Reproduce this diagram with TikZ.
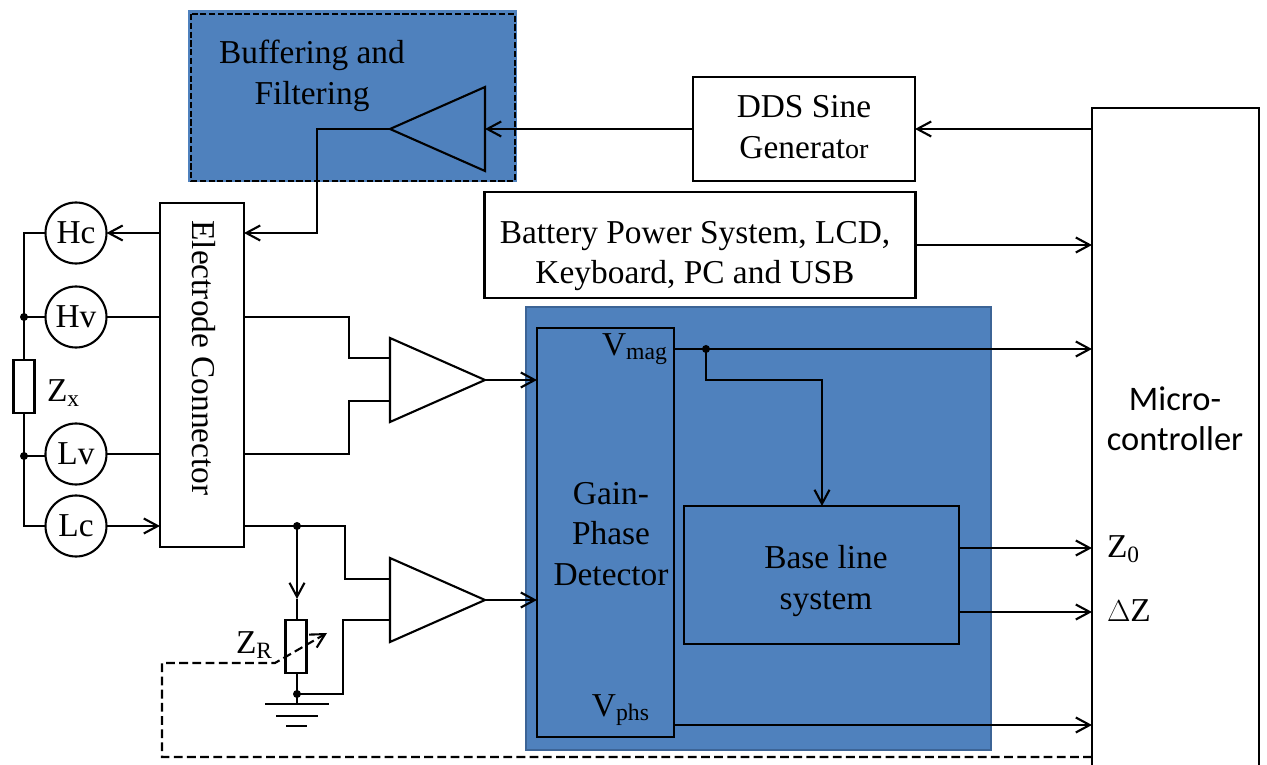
\documentclass[tikz,border=0pt]{standalone}
\usepackage{fontspec}
\setmainfont{Liberation Serif}
\setsansfont{Carlito}
\usepackage{xcolor}
\usetikzlibrary{positioning,arrows.meta,calc,shapes.geometric}
\definecolor{panelbg}{RGB}{79,129,189}
\definecolor{panelline}{RGB}{60,100,150}
\newcommand{\lowsub}[1]{\raisebox{-2.6pt}{\fontsize{13.5}{13.5}\selectfont #1}}
\tikzset{
    wire/.style={line width=1.2pt},
    sig/.style={wire, -{Straight Barb[length=2.8mm,width=3mm,line width=1.2pt]}},
    ctrl/.style={sig, dashed, dash pattern=on 5pt off 2.5pt},
    block/.style={draw, line width=1.2pt, inner sep=0pt, outer sep=0pt},
    panel/.style={fill=panelbg, draw=panelline, line width=1.6pt, inner sep=0pt, outer sep=0pt},
    probe/.style={circle, draw, line width=1.2pt, minimum size=12.2mm, inner sep=0pt, outer sep=0pt, font=\fontsize{19}{21}\selectfont},
    amp/.style={isosceles triangle, isosceles triangle stretches, draw, line width=1.2pt, inner sep=0pt, outer sep=0pt, minimum width=16.8mm, minimum height=19mm},
    res/.style={draw, line width=1.2pt, minimum width=4.2mm, minimum height=10.6mm, inner sep=0pt, outer sep=0pt},
    lbl/.style={inner sep=0pt, outer sep=0pt, align=center, font=\fontsize{19}{23}\selectfont},
    dot/.style={circle, fill, minimum size=1.6mm, inner sep=0pt, outer sep=0pt},
}
\begin{document}
\begin{tikzpicture}[x=0.2mm, y=-0.2mm]
    \path[use as bounding box, clip] (0,0) rectangle (1267,765);

    % Shaded panels
    \node[panel, draw=none, minimum width=65.8mm, minimum height=34.4mm] (bufpanel) at (352.5,96) {};
    \draw[wire, dashed, dash pattern=on 3.5pt off 1.5pt] (191,14) rectangle (515,181);
    \node[panel, minimum width=93mm, minimum height=88.6mm] (detpanel) at (758.5,528.5) {};

    % Blocks
    \node[block, minimum width=44.4mm, minimum height=20.8mm] (dds) at (804,129) {};
    \node[lbl] (ddstxt) at (804,127) {DDS Sine\\[0pt]Generat{\fontsize{16}{23}\selectfont or}};
    \node[block, minimum width=86.2mm, minimum height=21.2mm] (batt) at (700,245) {};
    \node[lbl] (batttxt) at (695,256) {Battery Power System, LCD,\\[0pt]Keyboard, PC and USB};
    \node[block, minimum width=33.4mm, minimum height=140mm] (micro) at (1175.5,458) {};
    \node[lbl, font=\sffamily\fontsize{19.6}{23}\selectfont] (microtxt) at (1175,419) {Micro-\\[0pt]controller};
    \node[block, minimum width=16.8mm, minimum height=68.8mm] (conn) at (202,375) {};
    \node[lbl, rotate=-90] (conntxt) at (204,358) {Electrode Connector};
    \node[block, minimum width=27.4mm, minimum height=81.8mm] (gain) at (605.5,532.5) {};
    \node[lbl] (gaintxt) at (611,534) {Gain-\\[0pt]Phase\\[0pt]Detector};
    \node[block, minimum width=55mm, minimum height=27.6mm] (base) at (821.5,575) {};
    \node[lbl] (basetxt) at (826,581) {Base line\\[0pt]system};
    \node[lbl] (buftxt) at (312,76) {Buffering and\\[0pt]Filtering};

    % Amplifiers
    \node[amp, shape border rotate=180, anchor=apex] (bufamp) at (390,129) {};
    \node[amp, anchor=apex] (amphi) at (485,380) {};
    \node[amp, anchor=apex] (amplo) at (485,600) {};

    % Electrodes
    \foreach \name/\y in {Hc/233, Hv/317, Lv/454, Lc/526} {
        \node[probe] (\name) at (76,\y) {\name};
    }

    % Impedances
    \node[res] (zx) at (24,386.5) {};
    \node[res] (zr) at (296,646.5) {};
    \node[lbl, anchor=west] (zxtxt) at (47,393) {Z\textsubscript{x}};
    \node[lbl, anchor=west] (zrtxt) at (236,645) {Z\textsubscript{R}};

    % Pin labels
    \node[lbl, anchor=east] (vmag) at (667,349) {V\lowsub{mag}};
    \node[lbl, anchor=east] (vphs) at (649,710) {V\lowsub{phs}};
    \node[lbl, anchor=west] (zo) at (1107,549) {Z\textsubscript{0}};
    \node[lbl, anchor=west] (dz) at (1107,611) {$\Delta$Z};

    % Junctions
    \node[dot] (jhv) at (24,317) {};
    \node[dot] (jlv) at (24,456) {};
    \node[dot] (jmag) at (706,349) {};
    \node[dot] (jout) at (297,526) {};
    \node[dot] (jgnd) at (297,694) {};
    \coordinate (gnd) at (297,704);
    \coordinate (ctrlend) at (327,633);

    % Drive path
    \draw[sig] (micro.west |- dds) -- (dds.east);
    \draw[sig] (dds.west) -- (bufamp.east |- dds);
    \draw[sig] (bufamp.apex) -| (317,233) -- (conn.east |- Hc);
    \draw[sig] (conn.west |- Hc) -- (Hc.east);
    \draw[sig] (batt.east) -- (micro.west |- batt);

    % Electrode wiring
    \draw[wire] (Hc.west) -| (jhv.center) -- (zx.north);
    \draw[wire] (jhv.center) -- (Hv.west);
    \draw[wire] (zx.south) -- (jlv.center) -- (Lv.west |- jlv);
    \draw[wire] (jlv.center) |- (Lc.west);
    \draw[wire] (Hv.east) -- (conn.west |- Hv);
    \draw[wire] (Lv.east) -- (conn.west |- Lv);
    \draw[sig] (Lc.east) -- (conn.west |- Lc);

    % Amplifier inputs
    \draw[wire] (conn.east |- Hv) -| (349,358) -- (390,358);
    \draw[wire] (conn.east |- Lv) -| (349,401) -- (390,401);
    \draw[wire] (conn.east |- jout) -- (jout.center) -| (345,579) -- (390,579);
    \draw[sig] (jout.center) -- (297,599);
    \draw[wire] (297,599) -- (zr.north -| jout);
    \draw[wire] (zr.south -| jout) -- (jgnd.center) -| (343,620) -- (390,620);
    \draw[sig] (amphi.apex) -- (gain.west |- amphi.apex);
    \draw[sig] (amplo.apex) -- (gain.west |- amplo.apex);

    % Ground
    \draw[wire] (jgnd.center) -- (gnd);
    \draw[wire] ($(gnd)+(-32,0)$) -- ($(gnd)+(32,0)$);
    \draw[wire] ($(gnd)+(-21,12)$) -- ($(gnd)+(21,12)$);
    \draw[wire] ($(gnd)+(-11,22)$) -- ($(gnd)+(10,22)$);

    % Detector outputs
    \draw[sig] (gain.east |- jmag) -- (micro.west |- jmag);
    \draw[sig] (jmag.center) |- (822,380) -- (base.north -| 822,0);
    \draw[sig] (base.east |- 0,548) -- (micro.west |- 0,548);
    \draw[sig] (base.east |- 0,612) -- (micro.west |- 0,612);
    \draw[sig] (gain.east |- 0,725) -- (micro.west |- 0,725);

    % Control line to the variable resistor
    \draw[ctrl] (micro.west |- 0,757) -- (162,757) -- (162,663) -- (275,663) -- (ctrlend);
\end{tikzpicture}
\end{document}
